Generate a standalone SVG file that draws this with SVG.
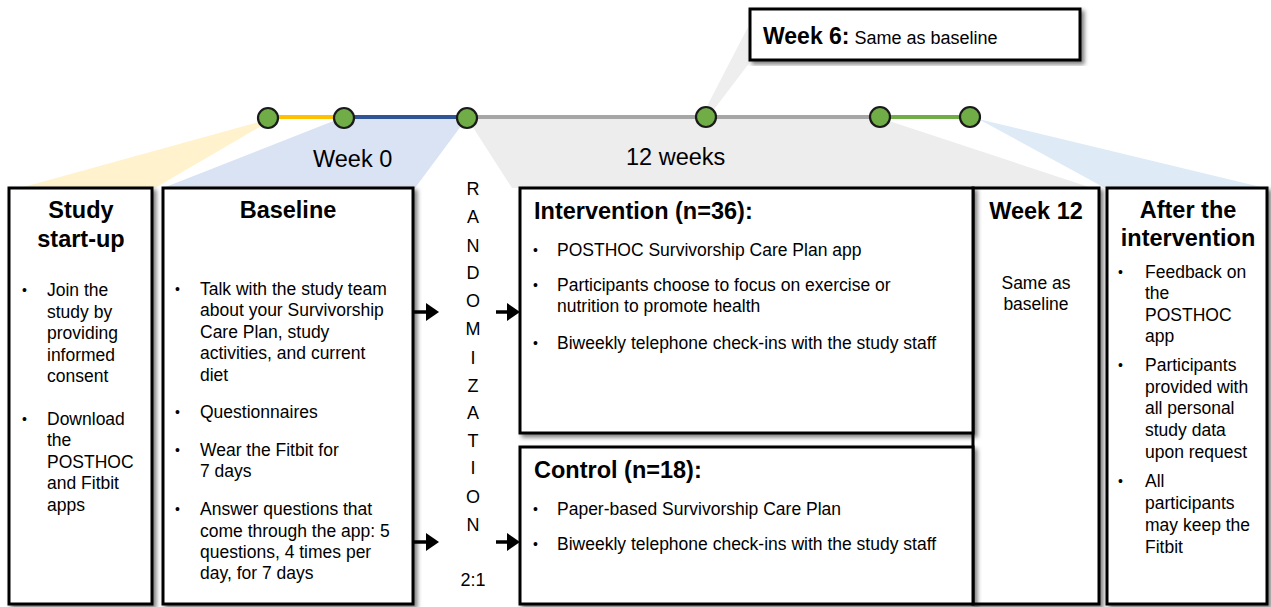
<svg xmlns="http://www.w3.org/2000/svg" width="1271" height="607" viewBox="0 0 1271 607">
  <defs>
    <filter id="sh" x="-5%" y="-5%" width="115%" height="115%">
      <feDropShadow dx="3" dy="3" stdDeviation="2.2" flood-color="#000" flood-opacity="0.5"/>
    </filter>
    <marker id="ah" markerUnits="userSpaceOnUse" markerWidth="13" markerHeight="18" refX="4" refY="9" orient="auto">
      <path d="M0,0 L13,9 L0,18 z" fill="#000"/>
    </marker>
    <style>
      text { font-family: "Liberation Sans", Arial, sans-serif; fill: #000; }
      .box { fill: #fff; stroke: #000; stroke-width: 3; filter: url(#sh); }
      .hd { font-size: 23.5px; font-weight: bold; }
      .tx { font-size: 17.5px; }
      .bu { font-size: 14px; }
      .lab { font-size: 23.5px; }
      .rl { font-size: 18px; text-anchor: middle; }
      .c { text-anchor: middle; }
      .dot { fill: #70AD47; stroke: #1a1a1a; stroke-width: 2.2; }
      .conn { stroke: #000; stroke-width: 3.5; fill: none; marker-end: url(#ah); }
    </style>
  </defs>

  <!-- fans -->
  <g id="fans">
    <polygon points="262,121 268,122 155,188 20,188" fill="#FFF2CC"/>
    <polygon points="341,118 467,118 415,188 163,188" fill="#DAE3F3"/>
    <polygon points="467,118 880,118 1092,188 512,188" fill="#EDEDED"/>
    <polygon points="970,117 1265,188 1105,188 982,121" fill="#DEEBF7"/>
    <polygon points="704,112 748,27 750,62 712,112" fill="#EEEEEE"/>
  </g>

  <!-- timeline -->
  <g id="timeline">
    <line x1="268" y1="117" x2="344" y2="117" stroke="#FFC000" stroke-width="4"/>
    <line x1="344" y1="117" x2="467" y2="117" stroke="#2F5597" stroke-width="4"/>
    <line x1="467" y1="117" x2="880" y2="117" stroke="#A6A6A6" stroke-width="4"/>
    <line x1="880" y1="117" x2="970" y2="117" stroke="#70AD47" stroke-width="4"/>
    <circle class="dot" cx="268" cy="118" r="10"/>
    <circle class="dot" cx="344" cy="118" r="10"/>
    <circle class="dot" cx="467" cy="118" r="10"/>
    <circle class="dot" cx="706" cy="117" r="10"/>
    <circle class="dot" cx="880" cy="117" r="10"/>
    <circle class="dot" cx="970" cy="117" r="10"/>
    <text class="lab" x="313" y="167">Week 0</text>
    <text class="lab" x="626" y="165">12 weeks</text>
  </g>

  <!-- Week 6 callout -->
  <g id="week6">
    <rect class="box" x="750" y="9" width="330" height="51"/>
    <text x="763" y="44"><tspan style="font-size:23px;font-weight:bold">Week 6:</tspan><tspan style="font-size:18px" dx="5">Same as baseline</tspan></text>
  </g>

  <!-- Study start-up -->
  <g id="startup">
    <rect class="box" x="9" y="188" width="143" height="416"/>
    <text class="hd c" x="81" y="218">Study</text>
    <text class="hd c" x="81" y="247">start-up</text>
    <text class="bu" x="22" y="295">•</text>
    <text class="tx" x="47" y="296">Join the</text>
    <text class="tx" x="47" y="318">study by</text>
    <text class="tx" x="47" y="339">providing</text>
    <text class="tx" x="47" y="361">informed</text>
    <text class="tx" x="47" y="382">consent</text>
    <text class="bu" x="22" y="424">•</text>
    <text class="tx" x="47" y="425">Download</text>
    <text class="tx" x="47" y="446">the</text>
    <text class="tx" x="47" y="468">POSTHOC</text>
    <text class="tx" x="47" y="489">and Fitbit</text>
    <text class="tx" x="47" y="511">apps</text>
  </g>

  <!-- Baseline -->
  <g id="baseline">
    <rect class="box" x="163" y="188" width="250" height="416"/>
    <text class="hd c" x="288" y="218">Baseline</text>
    <text class="bu" x="175" y="294">•</text>
    <text class="tx" x="200" y="295">Talk with the study team</text>
    <text class="tx" x="200" y="316">about your Survivorship</text>
    <text class="tx" x="200" y="338">Care Plan, study</text>
    <text class="tx" x="200" y="359">activities, and current</text>
    <text class="tx" x="200" y="381">diet</text>
    <text class="bu" x="175" y="417">•</text>
    <text class="tx" x="200" y="418">Questionnaires</text>
    <text class="bu" x="175" y="455">•</text>
    <text class="tx" x="200" y="456">Wear the Fitbit for</text>
    <text class="tx" x="200" y="477">7 days</text>
    <text class="bu" x="175" y="514">•</text>
    <text class="tx" x="200" y="515">Answer questions that</text>
    <text class="tx" x="200" y="537">come through the app: 5</text>
    <text class="tx" x="200" y="558">questions, 4 times per</text>
    <text class="tx" x="200" y="579">day, for 7 days</text>
  </g>

  <!-- Randomization -->
  <g id="randomization">
    <text class="rl" x="473" y="195">R</text>
    <text class="rl" x="473" y="223">A</text>
    <text class="rl" x="473" y="252">N</text>
    <text class="rl" x="473" y="279">D</text>
    <text class="rl" x="473" y="307">O</text>
    <text class="rl" x="473" y="335">M</text>
    <text class="rl" x="473" y="364">I</text>
    <text class="rl" x="473" y="392">Z</text>
    <text class="rl" x="473" y="419">A</text>
    <text class="rl" x="473" y="447">T</text>
    <text class="rl" x="473" y="474">I</text>
    <text class="rl" x="473" y="503">O</text>
    <text class="rl" x="473" y="531">N</text>
    <text class="rl" x="473" y="586">2:1</text>
  </g>

  <!-- Week 12 -->
  <g id="week12">
    <rect class="box" x="973" y="188" width="126" height="416"/>
    <text class="hd c" x="1036" y="219">Week 12</text>
    <text class="tx c" x="1036" y="289">Same as</text>
    <text class="tx c" x="1036" y="310">baseline</text>
  </g>

  <!-- Intervention -->
  <g id="intervention">
    <rect class="box" x="520" y="188" width="453" height="245"/>
    <text class="hd" x="534" y="219">Intervention (n=36):</text>
    <text class="bu" x="533" y="255">•</text>
    <text class="tx" x="557" y="256">POSTHOC Survivorship Care Plan app</text>
    <text class="bu" x="533" y="290">•</text>
    <text class="tx" x="557" y="291">Participants choose to focus on exercise or</text>
    <text class="tx" x="557" y="312">nutrition to promote health</text>
    <text class="bu" x="533" y="348">•</text>
    <text class="tx" x="557" y="349">Biweekly telephone check-ins with the study staff</text>
  </g>

  <!-- Control -->
  <g id="control">
    <rect class="box" x="520" y="447" width="453" height="157"/>
    <text class="hd" x="534" y="478">Control (n=18):</text>
    <text class="bu" x="533" y="514">•</text>
    <text class="tx" x="557" y="515">Paper-based Survivorship Care Plan</text>
    <text class="bu" x="533" y="549">•</text>
    <text class="tx" x="557" y="550">Biweekly telephone check-ins with the study staff</text>
  </g>

  <!-- After the intervention -->
  <g id="after">
    <rect class="box" x="1107" y="188" width="160" height="416"/>
    <text class="hd c" x="1188" y="218">After the</text>
    <text class="hd c" x="1188" y="246">intervention</text>
    <text class="bu" x="1118" y="277">•</text>
    <text class="tx" x="1145" y="278">Feedback on</text>
    <text class="tx" x="1145" y="299">the</text>
    <text class="tx" x="1145" y="321">POSTHOC</text>
    <text class="tx" x="1145" y="342">app</text>
    <text class="bu" x="1118" y="370">•</text>
    <text class="tx" x="1145" y="371">Participants</text>
    <text class="tx" x="1145" y="393">provided with</text>
    <text class="tx" x="1145" y="414">all personal</text>
    <text class="tx" x="1145" y="436">study data</text>
    <text class="tx" x="1145" y="458">upon request</text>
    <text class="bu" x="1118" y="486">•</text>
    <text class="tx" x="1145" y="487">All</text>
    <text class="tx" x="1145" y="509">participants</text>
    <text class="tx" x="1145" y="531">may keep the</text>
    <text class="tx" x="1145" y="553">Fitbit</text>
  </g>

  <!-- connectors -->
  <g id="connectors">
    <line class="conn" x1="414" y1="312" x2="430" y2="312"/>
    <line class="conn" x1="414" y1="542" x2="430" y2="542"/>
    <line class="conn" x1="496" y1="312" x2="511" y2="312"/>
    <line class="conn" x1="496" y1="542" x2="511" y2="542"/>
  </g>
</svg>
